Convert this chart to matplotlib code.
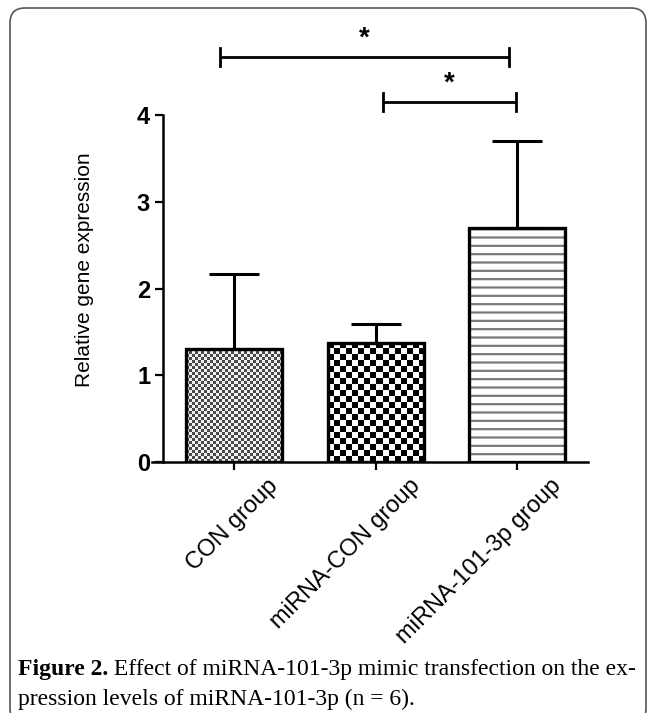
import numpy as np
import matplotlib
matplotlib.use("Agg")
import matplotlib.pyplot as plt
import matplotlib.transforms as mtransforms
from matplotlib.colors import ListedColormap
from matplotlib.patches import FancyBboxPatch

# data
groups = ["CON group", "miRNA-CON group", "miRNA-101-3p group"]
means = [1.30, 1.37, 2.70]
sds = [0.87, 0.22, 1.00]
yticks = [0, 1, 2, 3, 4]
# significance brackets: left end, right end, height, label
sig_x1 = [-0.10, 1.05]
sig_x2 = [1.94, 1.99]
sig_y = [4.67, 4.15]
sig_txt = ["*", "*"]
caption_bold = "Figure 2."
caption_1 = " Effect of miRNA-101-3p mimic transfection on the ex-"
caption_2 = "pression levels of miRNA-101-3p (n = 6)."

plt.rcParams['font.family'] = ['Liberation Sans', 'DejaVu Sans']
plt.rcParams['hatch.linewidth'] = 1.6

fig = plt.figure(figsize=(6.53, 7.13), dpi=100)
ax = fig.add_axes([152/653, 1 - 462/713, 436/653, 347/713])

x = np.arange(len(groups))
ax.set_xlim(-0.58, 2.5)
ax.set_ylim(0, 4)

bw = 0.68
# patterned fills
bars = ax.bar(x, means, width=bw, color='white', edgecolor='none', zorder=1)
# horizontal line hatch for the third bar
ax.bar(x[2], means[2], width=bw, color='white', edgecolor='#7a7a7a', linewidth=0,
       hatch='--', zorder=2)

# checker fills for the first two bars
checker = [(3, ['#f0f0f0', '#4a4a4a']), (6, ['white', 'black'])]
for i in range(2):
    b = bars[i]
    x0, w, h = b.get_x(), b.get_width(), b.get_height()
    p0 = ax.transData.transform((x0, 0))
    p1 = ax.transData.transform((x0 + w, h))
    npx_w = int(round(p1[0] - p0[0]))
    npx_h = int(round(p1[1] - p0[1]))
    c, cols = checker[i]
    ii, jj = np.mgrid[0:npx_h, 0:npx_w]
    arr = ((ii // c + jj // c) % 2).astype(float)
    im = ax.imshow(arr, extent=(x0, x0 + w, 0, h), cmap=ListedColormap(cols),
                   interpolation='nearest', aspect='auto', origin='lower', zorder=2)
    im.set_clip_path(b)

# outlines + error bars
ax.bar(x, means, width=bw, fill=False, edgecolor='black', linewidth=2.4, zorder=3)
ax.errorbar(x, means, yerr=[np.zeros(len(sds)), sds], fmt='none', ecolor='black',
            elinewidth=2.2, capsize=18, capthick=2.2, zorder=2.5)

ax.set_xlim(-0.58, 2.5)
ax.set_ylim(0, 4)

for s in ['top', 'right']:
    ax.spines[s].set_visible(False)
ax.spines['left'].set_position(('data', -0.5))
ax.spines['left'].set_linewidth(1.8)
ax.spines['bottom'].set_linewidth(1.8)

ax.set_yticks(yticks)
ax.set_yticklabels([str(t) for t in yticks], fontsize=17, fontweight='bold')
ax.tick_params(axis='both', length=6, width=1.6, direction='out')
ax.set_ylabel("Relative gene expression", fontsize=15)
ax.yaxis.set_label_coords(-0.133, 0.553)

ax.set_xticks(x)
ax.set_xticklabels(groups, fontsize=17, rotation=45, ha='right', rotation_mode='anchor')
offset = mtransforms.ScaledTranslation(0.33, 0.0, fig.dpi_scale_trans)
for lab in ax.get_xticklabels():
    lab.set_transform(lab.get_transform() + offset)

# significance brackets
for a, b, y, t in zip(sig_x1, sig_x2, sig_y, sig_txt):
    ax.plot([a, b], [y, y], color='black', lw=2.0, clip_on=False, solid_capstyle='butt')
    ax.plot([a, a], [y - 0.1, y + 0.1], color='black', lw=2.0, clip_on=False)
    ax.plot([b, b], [y - 0.1, y + 0.1], color='black', lw=2.0, clip_on=False)
    ax.text((a + b) / 2, y + 0.06, t, ha='center', va='bottom', fontsize=20,
            fontweight='bold', clip_on=False)

# frame
frame = FancyBboxPatch((0.10, -0.10), 6.36, 7.15,
                       boxstyle="round,pad=0,rounding_size=0.15",
                       transform=fig.dpi_scale_trans, fill=False,
                       edgecolor='#555555', linewidth=1.2)
fig.patches.append(frame)

# caption
serif = ['Liberation Serif', 'DejaVu Serif']
fig.canvas.draw()
r = fig.canvas.get_renderer()
t1 = fig.text(18/653, 1 - 670/713, caption_bold, family=serif, fontweight='bold',
              fontsize=17, va='center', ha='left')
bb = t1.get_window_extent(renderer=r)
fig.text(bb.x1 / fig.bbox.width, 1 - 670/713, caption_1, family=serif,
         fontsize=17, va='center', ha='left')
fig.text(18/653, 1 - 699/713, caption_2, family=serif, fontsize=17,
         va='center', ha='left')

fig.savefig("out.png", dpi=100)
